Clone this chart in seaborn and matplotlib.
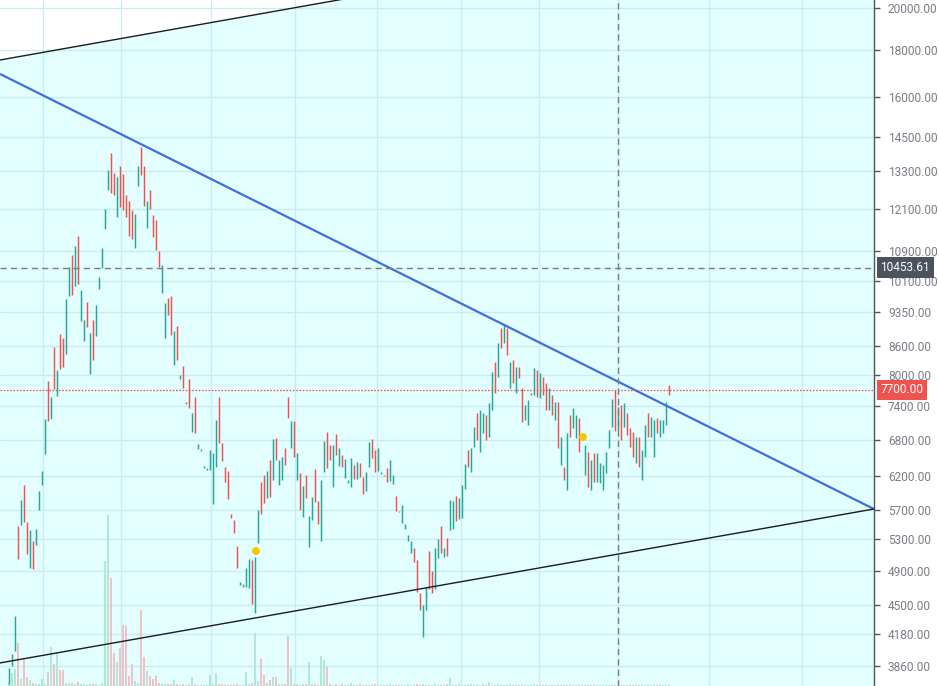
import matplotlib
matplotlib.use("Agg")
import matplotlib.pyplot as plt
import seaborn as sns
import numpy as np
from matplotlib.ticker import FixedLocator, NullLocator, FixedFormatter

# ---------------- data ----------------
opens = [
    3690, 3860, 4008, 5479, 5492, 6070, 5534, 4933, 5277, 5225,
    5702, 6070, 6558, 7872, 7158, 8570, 7581, 8854, 8765, 8421,
    9735, 10787, 9981, 11309, 9145, 8700, 9590, 8010, 9168, 8810,
    9907, 10441, 11510, 12689, 13920, 13240, 11860, 13475, 13208, 12531,
    12345, 12070, 10980, 12815, 14130, 13475, 11539, 12689, 11922, 11772,
    10895, 9808, 8765, 9686, 9735, 8193, 9031, 7911, 8172, 7431,
    7911, 6929, 7562, 6641, 6608, 6333, 6301, 6301, 5788, 6349,
    7562, 6741, 6349, 6285, 5645, 5561, 5210, 4728, 4705, 4705,
    4693, 5032, 4408, 5251, 6115, 6222, 5876, 6461, 6146, 6826,
    6070, 6146, 6657, 7562, 6657, 7122, 6146, 6253, 5603, 6222,
    5193, 5561, 6317, 5832, 5277, 6269, 6929, 6707, 6040, 6894,
    6365, 6541, 6176, 6100, 6040, 6381, 6161, 6413, 6192, 5979,
    6349, 6809, 6624, 6285, 6237, 6206, 6333, 6131, 6085, 5905,
    5688, 5519, 5438, 5277, 5121, 5185, 5032, 4634, 4151, 4441,
    5146, 4896, 4681, 5057, 5479, 5070, 5317, 5424, 5438, 5905,
    5575, 5589, 6010, 6624, 6269, 6674, 7266, 6591, 6911, 7230,
    6843, 7321, 8255, 7950, 8987, 8656, 8987, 7735, 8296, 7640,
    8152, 7735, 7140, 7052, 7601, 7601, 8091, 7543, 7950, 7833,
    7321, 7601, 7140, 7468, 6381, 6349, 5994, 7230, 6999, 6826,
    7176, 6792, 6222, 6591, 5994, 6574, 6115, 6100, 5994, 6253,
    6657, 7016, 7697, 6964, 7413, 7016, 7266, 6999, 6929, 6413,
    6843, 6146, 6510, 7266, 6843, 6510, 7176, 6843, 6911, 7052,
    7793,
]
closes = [
    3841, 3978, 4374, 5044, 5846, 5533, 5108, 5424, 4920, 5438,
    5979, 6285, 7158, 7122, 7562, 7716, 8091, 8111, 8152, 9662,
    10467, 9760, 11032, 10031, 9882, 9168, 9009, 8877, 8296, 9518,
    10210, 10980, 12100, 13340, 12594, 12531, 13108, 12160, 12070, 11860,
    11309, 11224, 11951, 13475, 13175, 12191, 12345, 12100, 11281, 10922,
    10467, 10519, 9566, 9283, 8832, 8920, 8296, 7990, 7735, 7468,
    7358, 7266, 6911, 6724, 6641, 6365, 6333, 6624, 6574, 7140,
    6741, 6445, 6115, 5861, 5589, 5383, 4933, 4764, 4740, 4933,
    5044, 4508, 5070, 5702, 5645, 5803, 6285, 5891, 6809, 6461,
    6461, 6510, 6381, 7176, 7122, 6510, 6574, 5702, 6055, 5876,
    5617, 5891, 5817, 5506, 6146, 6775, 6333, 6461, 6707, 6541,
    6657, 6349, 6477, 6146, 6494, 6161, 6429, 6192, 5934, 6269,
    6758, 6494, 6269, 6657, 6269, 6222, 6115, 6461, 6222, 5688,
    5674, 5773, 5506, 5357, 5277, 5007, 4646, 4441, 4496, 4705,
    4681, 4634, 5185, 5303, 5121, 5185, 5083, 5846, 5832, 5547,
    5876, 6070, 6397, 6349, 6657, 7016, 6792, 7321, 7266, 6792,
    7450, 8050, 7640, 8656, 8549, 9077, 8400, 8255, 7833, 8152,
    7931, 7105, 7413, 7506, 7640, 8131, 7562, 8030, 7601, 7321,
    7735, 7230, 7468, 6657, 6843, 6146, 6911, 6843, 7358, 7230,
    6591, 6877, 6707, 6040, 6461, 6115, 6574, 6413, 6381, 6591,
    6964, 7525, 6946, 7376, 6792, 7450, 6877, 6674, 6510, 6843,
    6349, 6624, 7052, 6843, 7194, 7140, 6911, 7140, 7140, 7468,
    7601,
]
volumes = [
    24, 78, 100, 258, 40, 162, 54, 36, 20, 15,
    10, 42, 10, 84, 234, 132, 198, 96, 96, 20,
    18, 18, 10, 24, 10, 12, 8, 10, 14, 10,
    8, 20, 750, 1026, 650, 200, 144, 228, 366, 360,
    60, 130, 30, 20, 456, 174, 90, 60, 40, 60,
    20, 12, 10, 14, 10, 36, 10, 8, 12, 8,
    10, 54, 10, 8, 6, 6, 8, 66, 12, 78,
    10, 12, 8, 6, 6, 8, 10, 6, 8, 84,
    10, 18, 318, 30, 162, 66, 20, 36, 54, 54,
    12, 10, 14, 300, 108, 12, 10, 8, 10, 12,
    144, 10, 12, 8, 180, 156, 114, 10, 8, 12,
    6, 10, 8, 6, 18, 8, 6, 10, 6, 8,
    6, 8, 10, 6, 6, 8, 6, 10, 8, 6,
    6, 8, 6, 10, 8, 6, 10, 8, 12, 6,
    8, 6, 10, 6, 8, 6, 10, 48, 8, 6,
    10, 8, 6, 8, 10, 6, 8, 6, 10, 8,
    24, 8, 6, 10, 6, 8, 6, 10, 6, 8,
    6, 8, 6, 6, 8, 12, 6, 8, 6, 6,
    8, 6, 6, 8, 6, 6, 8, 6, 6, 8,
    6, 6, 8, 6, 6, 6, 8, 6, 6, 6,
    8, 6, 6, 8, 6, 6, 6, 8, 6, 6,
    6, 8, 6, 6, 6, 8, 6, 6, 6, 6,
    8,
]
price_ticks = [3860, 4180, 4500, 4900, 5300, 5700, 6200, 6800, 7400, 8000,
               8600, 9350, 10100, 10900, 12100, 13300, 14500, 16000, 18000, 20000]
time_grid = [11.33, 37.33, 67.33, 95.33, 122.67, 150.67, 176.67, 203, 233.33, 264.33]
crosshair_x = 203
ref_price = 10453.61
last_price = 7700.00
signal_x = [82.33, 191.33]
signal_price = [5146, 6843]
# trend lines: (x0, p0, x1, p1)
blue_line = (-3, 16960, 288.33, 5715)
lower_line = (-3, 3890, 288.33, 5716)
upper_line = (-3, 17562, 288.33, 25874)

# ---------------- style ----------------
sns.set_theme(style="white")
plt.rcParams['font.family'] = ['Roboto', 'DejaVu Sans']

UP, DOWN = '#26a69a', '#ef5350'
VOL_UP, VOL_DOWN = '#b3e6d6', '#efc2c6'
XMIN, XMAX = -3, 288.333
YMIN, YMAX = 3672, 20404

fig = plt.figure(figsize=(9.39, 6.86), dpi=100)
rect = [0, 0, 874 / 939, 1]
ax = fig.add_axes(rect)
axv = fig.add_axes(rect, facecolor='none')
axc = fig.add_axes(rect, facecolor='none')

idx = np.arange(len(opens))
o = np.array(opens, float)
c = np.array(closes, float)
up = c >= o

# background fill under the upper channel line
ax.set_facecolor('white')
ax.fill_between([upper_line[0], upper_line[2]], [upper_line[1], upper_line[3]], YMIN,
                color='#e2fefe', lw=0, zorder=0.1)

# volume
axv.bar(idx, volumes, width=0.75, color=np.where(up, VOL_UP, VOL_DOWN), lw=0)

# candles
axc.vlines(idx, np.minimum(o, c), np.maximum(o, c), colors=np.where(up, UP, DOWN), lw=1.05)

# trend lines
axc.plot([blue_line[0], blue_line[2]], [blue_line[1], blue_line[3]], color='#3f70d9', lw=1.6,
         solid_capstyle='butt')
axc.plot([lower_line[0], lower_line[2]], [lower_line[1], lower_line[3]], color='#1c1c1c', lw=1.0)
axc.plot([upper_line[0], upper_line[2]], [upper_line[1], upper_line[3]], color='#1c1c1c', lw=1.0)

# reference lines
axc.axhline(ref_price, color='#787b86', lw=1.0, dashes=(4.5, 3))
axc.axvline(crosshair_x, color='#787b86', lw=1.0, dashes=(4.5, 3))
axc.axhline(last_price, color=DOWN, lw=0.9, dashes=(1.3, 1.3))

# signal markers
sns.scatterplot(x=signal_x, y=signal_price, ax=axc, color='#f7c600', s=32,
                edgecolor='none', zorder=6, legend=False)

for a in (ax, axc):
    a.set_yscale('log')
    a.set_ylim(YMIN, YMAX)
    a.set_xlim(XMIN, XMAX)
axv.set_xlim(XMIN, XMAX)
axv.set_ylim(0, 4116)
axv.axis('off')
axc.axis('off')

# axis / grid
ax.yaxis.tick_right()
ax.yaxis.set_major_locator(FixedLocator(price_ticks))
ax.yaxis.set_major_formatter(FixedFormatter([f"{v:.2f}" for v in price_ticks]))
ax.yaxis.set_minor_locator(NullLocator())
ax.set_xticks(time_grid)
ax.xaxis.set_minor_locator(NullLocator())
ax.tick_params(axis='x', length=0, labelbottom=False)
ax.tick_params(axis='y', which='major', direction='out', length=4, width=1,
               color='#50535e', labelcolor='#7a7d86', labelsize=8.6, pad=6,
               right=True, left=False, labelright=True, labelleft=False)
ax.grid(True, color='#c9ebf1', lw=0.9)
ax.set_axisbelow(True)
for s in ('top', 'left', 'bottom'):
    ax.spines[s].set_visible(False)
ax.spines['right'].set_color('#50535e')
ax.spines['right'].set_linewidth(1.0)

# price labels on the scale
ytr = ax.get_yaxis_transform()
ax.text(1.0075, ref_price, f"{ref_price:.2f}", transform=ytr, ha='left', va='center',
        fontsize=8.6, color='white', clip_on=False, zorder=10,
        bbox=dict(boxstyle='square,pad=0.3', fc='#4c525e', ec='none'))
ax.text(1.0075, last_price, f"{last_price:.2f}", transform=ytr, ha='left', va='center',
        fontsize=8.6, color='white', clip_on=False, zorder=10,
        bbox=dict(boxstyle='square,pad=0.3', fc=DOWN, ec='none'))

fig.savefig('out.png', dpi=100)
